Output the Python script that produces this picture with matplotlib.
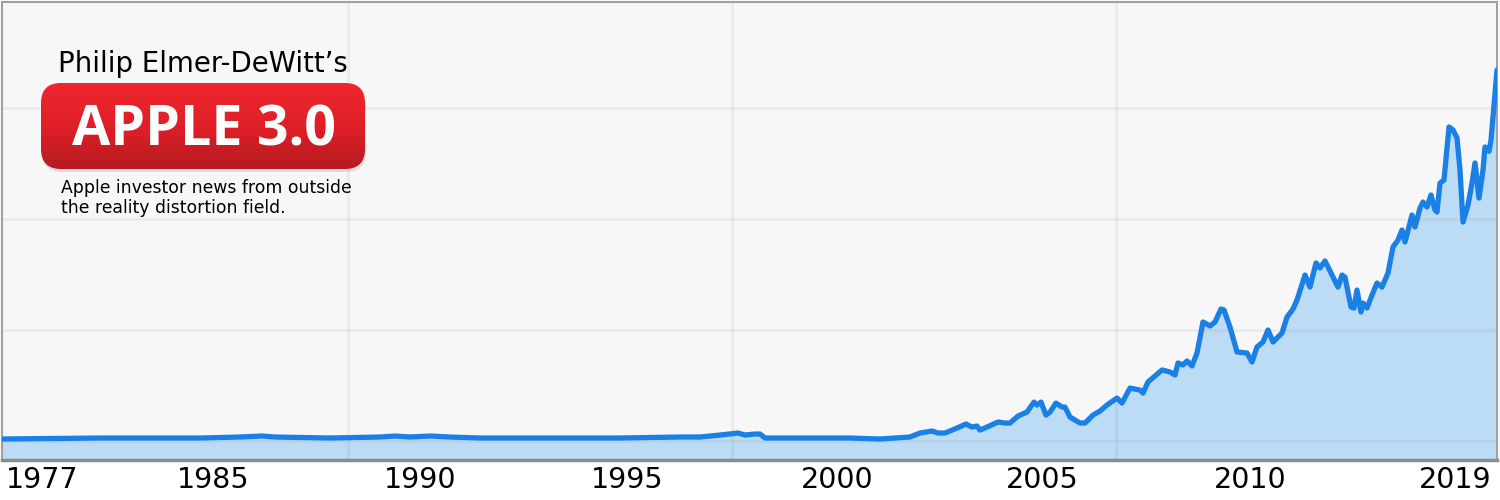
import numpy as np
import matplotlib
matplotlib.use('Agg')
import matplotlib.pyplot as plt
from matplotlib.patches import FancyBboxPatch
from matplotlib.colors import LinearSegmentedColormap

# position along the (non-linear) time axis and the price
t = [2, 100, 200, 240, 262, 275, 330, 380, 395, 410, 430, 450, 480, 550, 620,
     680, 700, 720, 738, 745, 755, 760, 765, 800, 850, 880, 910, 920, 932, 938,
     945, 957, 966, 972, 977, 980, 987, 998, 1005, 1010, 1018, 1027, 1034, 1037,
     1041, 1046, 1050, 1056, 1062, 1065, 1070, 1080, 1085, 1093, 1100, 1107,
     1117, 1122, 1130, 1140, 1143, 1148, 1162, 1170, 1175, 1178, 1183, 1187,
     1192, 1197, 1203, 1210, 1215, 1221, 1224, 1230, 1237, 1247, 1252, 1257,
     1263, 1268, 1273, 1282, 1287, 1293, 1297, 1305, 1310, 1316, 1320, 1325,
     1333, 1338, 1342, 1345, 1351, 1354, 1357, 1361, 1363, 1367, 1372, 1377,
     1382, 1388, 1393, 1398, 1402, 1405, 1412, 1415, 1420, 1423, 1427, 1431,
     1435, 1437, 1440, 1444, 1449, 1453, 1457, 1460, 1463, 1468, 1472, 1475,
     1479, 1483, 1485, 1489, 1491, 1497]
price = [1.8, 2.7, 2.7, 3.6, 4.5, 3.6, 2.7, 3.6, 4.5, 3.6, 4.5, 3.6, 2.7, 2.7, 2.7,
         3.6, 3.6, 5.4, 7.2, 5.4, 6.3, 6.3, 2.7, 2.7, 2.7, 1.8, 3.6, 7.2, 9.0, 7.2,
         7.2, 11.7, 15.3, 12.6, 13.5, 9.9, 12.6, 17.1, 16.2, 16.2, 22.5, 26.1, 35.1, 32.4,
         35.1, 23.4, 26.1, 34.2, 30.6, 30.6, 21.6, 16.2, 16.2, 23.4, 27.0, 32.4,
         38.7, 34.2, 47.7, 45.9, 43.2, 53.2, 64.0, 62.2, 59.5, 70.3, 68.5, 72.1,
         67.6, 79.3, 107.2, 103.6, 107.2, 118.9, 118.0, 102.7, 80.2, 79.3, 71.2, 84.7,
         89.2, 100.0, 89.2, 97.3, 111.7, 118.9, 127.0, 149.5, 138.7, 160.4, 155.9, 162.2,
         147.7, 138.7, 149.5, 147.7, 120.7, 119.8, 136.0, 116.2, 124.3, 119.8, 131.5, 142.3,
         138.7, 151.4, 174.8, 181.1, 190.1, 179.3, 203.6, 192.8, 209.9, 215.3, 210.8, 221.6,
         208.1, 206.3, 232.4, 235.1, 282.9, 280.2, 273.0, 244.1, 197.3, 212.6, 232.4, 250.5,
         218.9, 244.1, 264.9, 261.0, 271.0, 334.2]

tick_pos = [42, 213, 420, 627, 837, 1042, 1250, 1455]
tick_labels = ['1977', '1985', '1990', '1995', '2000', '2005', '2010', '2019']
grid_x = [348, 732, 1116]
grid_y = [0, 100, 200, 300]

fig = plt.figure(figsize=(15, 5), dpi=100)
fig.patch.set_facecolor('white')
ax = fig.add_axes([2 / 1500, 40 / 500, 1495 / 1500, 458 / 500])
ax.set_facecolor('#f7f7f7')
ax.set_xlim(2, 1497)
ax.set_ylim(-17.1, 395.5)
ybot = ax.get_ylim()[0]
ax.fill_between(t, price, ybot, color='#bcdbf4', lw=0, zorder=1)
ax.plot(t, price, color='#1a80e5', lw=3.8, solid_joinstyle='round',
        solid_capstyle='round', zorder=3)
for gx in grid_x:
    ax.axvline(gx, color='#8a8a8a', alpha=0.11, lw=2, zorder=2)
for gy in grid_y:
    ax.axhline(gy, color='#8a8a8a', alpha=0.11, lw=2, zorder=2)

ax.set_xticks(tick_pos)
ax.set_xticklabels(tick_labels, fontsize=20.5, family='DejaVu Sans')
ax.tick_params(axis='x', length=0, pad=4)
ax.set_yticks([])
for side in ['left', 'top', 'right']:
    ax.spines[side].set_color('#a0a0a0')
    ax.spines[side].set_linewidth(1.5)
ax.spines['bottom'].set_color('#8c8c8c')
ax.spines['bottom'].set_linewidth(2.5)

# logo overlay in pixel coordinates
ov = fig.add_axes([0, 0, 1, 1])
ov.axis('off')
shadow = FancyBboxPatch((42, 85), 324, 87, boxstyle='round,pad=0,rounding_size=20',
                        transform=ov.transData, facecolor='#000000', alpha=0.10,
                        edgecolor='none', zorder=-1)
ov.add_patch(shadow)
box = FancyBboxPatch((41, 83), 324, 86, boxstyle='round,pad=0,rounding_size=20',
                     transform=ov.transData, facecolor='none', edgecolor='none')
ov.add_patch(box)
cmap = LinearSegmentedColormap.from_list('red', ['#f0262e', '#e01f27', '#b61b22'])
grad = np.linspace(0, 1, 100).reshape(-1, 1)
im = ov.imshow(grad, extent=(41, 365, 169, 83), origin='upper', cmap=cmap,
               aspect='auto', interpolation='bilinear', zorder=0)
im.set_clip_path(box)
ov.set_xlim(0, 1500)
ov.set_ylim(500, 0)

ov.text(203, 72, 'Philip Elmer-DeWitt\u2019s', ha='center', va='baseline',
        fontsize=19.8, color='black', family='DejaVu Sans')
ov.text(203.5, 146, 'APPLE 3.0', ha='center', va='baseline', fontsize=40,
        fontweight='bold', color='white', family='Open Sans')
ov.text(61, 193, 'Apple investor news from outside', ha='left', va='baseline',
        fontsize=12.4, color='black', family='DejaVu Sans')
ov.text(61, 213, 'the reality distortion field.', ha='left', va='baseline',
        fontsize=12.4, color='black', family='DejaVu Sans')

fig.savefig('out.png', dpi=100, facecolor='white')
